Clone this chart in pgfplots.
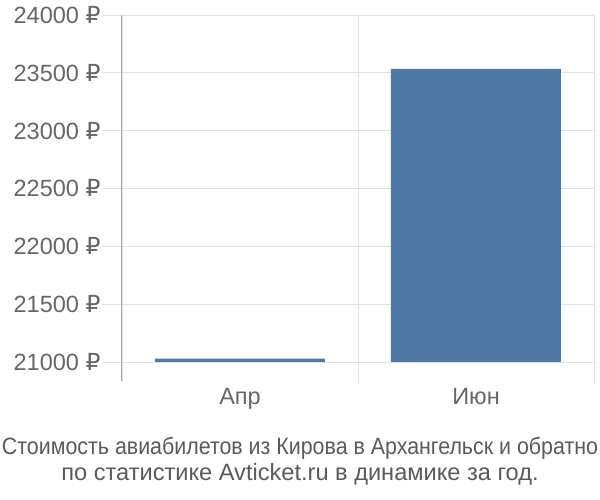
\documentclass[border=0pt]{standalone}
\usepackage{graphicx}
\usepackage{pgfplots}
\pgfplotsset{compat=1.18}
\usepackage{fontspec}
\setmainfont{Liberation Sans}
\newfontfamily\rubfont{DejaVu Sans}
\definecolor{barblue}{RGB}{78,121,167}
\definecolor{gridgray}{RGB}{224,224,224}
\definecolor{axisgray}{RGB}{170,170,170}
\definecolor{labelgray}{RGB}{102,102,102}
\definecolor{captiongray}{RGB}{90,90,90}
\begin{document}
\begin{tikzpicture}[x=1pt,y=1pt]
\begin{axis}[
  at={(0,0)}, anchor=south west,
  scale only axis,
  width=472pt, height=347pt,
  xmin=-0.5, xmax=1.5,
  ymin=21000, ymax=24000,
  ytick distance=500,
  scaled y ticks=false,
  xtick={-0.5,0.5,1.5},
  xticklabels={},
  extra x ticks={0,1},
  extra x tick labels={Апр,Июн},
  extra x tick style={major tick length=0pt, grid=none,
    xticklabel style={yshift=-23pt}},
  grid=major,
  grid style={gridgray, line width=0.8pt},
  major tick length=20pt,
  tick align=outside,
  tick style={gridgray, line width=0.8pt},
  axis lines*=left,
  x axis line style={draw=none},
  y axis line style={axisgray, line width=1pt, shorten <=-19pt},
  ticklabel style={font=\fontsize{23.5}{26}\selectfont, text=labelgray},
  /pgf/number format/assume math mode=true,
  yticklabel={\pgfmathprintnumber[fixed, 1000 sep={}]{\tick}~{\rubfont ₽}},
  yticklabel style={xshift=2pt},
  ybar, bar width=170pt,
  clip=false,
]
\addplot[fill=barblue, draw=none] coordinates {(0,21030) (1,23535)};
\end{axis}
% the first caption line is squeezed to the picture's width, as in the reference
\node[text=captiongray, font=\fontsize{23.6}{26}\selectfont] at (178,-86) {\resizebox{596pt}{\height}{Стоимость авиабилетов из Кирова в Архангельск и обратно}};
\node[text=captiongray, font=\fontsize{23.6}{26}\selectfont] at (178,-112) {по статистике Avticket.ru в динамике за год.};
\pgfresetboundingbox
\useasboundingbox (-122,-138) rectangle (478,362);
\end{tikzpicture}
\end{document}
